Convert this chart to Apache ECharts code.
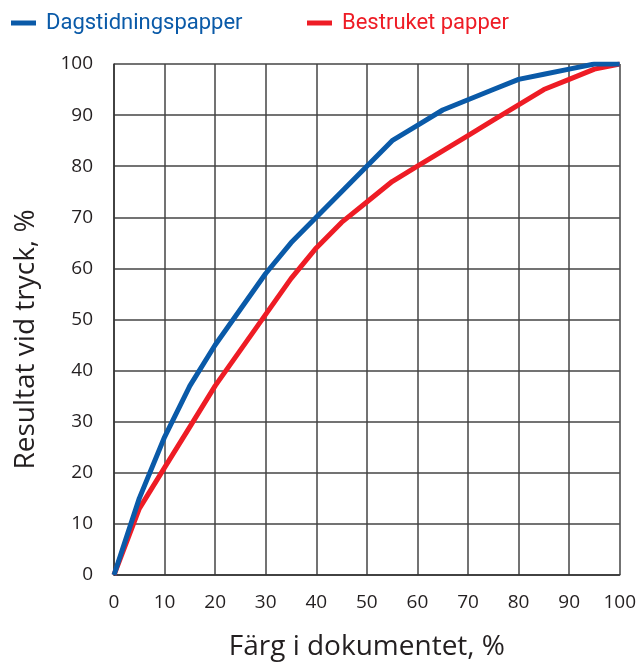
<!DOCTYPE html>
<html><head><meta charset="utf-8">
<script src="https://cdn.jsdelivr.net/npm/echarts@6/dist/echarts.min.js"></script>
<style>html,body{margin:0;padding:0;background:#fff}#c{width:639px;height:666px}</style>
</head><body><div id="c"></div>
<script>
var xValues = [0,5,10,15,20,25,30,35,40,45,50,55,60,65,70,75,80,85,90,95,100];
var dagstidning = [0,15,27,37,45,52,59,65,70,75,80,85,88,91,93,95,97,98,99,100,100];
var bestruket  = [0,13,21,29,37,44,51,58,64,69,73,77,80,83,86,89,92,95,97,99,100];
var seriesNames = ['Dagstidningspapper','Bestruket papper'];
var xTicks = [0,10,20,30,40,50,60,70,80,90,100];
var yTicks = [0,10,20,30,40,50,60,70,80,90,100];
var BLUE = '#0a5aa8', RED = '#ee1c25';
function pairs(ys){return xValues.map(function(x,i){return [x, ys[i]];});}
var chart = echarts.init(document.getElementById('c'));
var font = '"Open Sans", "Noto Sans", sans-serif';
var lfont = 'Roboto, "Open Sans", sans-serif';
function legendOf(name, color, left){
  return {
    left:left, top:7, itemWidth:25, itemHeight:5, icon:'rect',
    data:[{name:name, textStyle:{color:color}}],
    textStyle:{fontSize:22, fontFamily:lfont, padding:[0,0,0,5]}
  };
}
chart.setOption({
  animation:false,
  textStyle:{fontFamily:font},
  legend:[legendOf(seriesNames[0], BLUE, 6), legendOf(seriesNames[1], RED, 302)],
  grid:{left:114, right:16, top:64, bottom:91},
  xAxis:{
    type:'value', min:0, max:100, interval:10,
    name:'Färg i dokumentet, %', nameLocation:'middle', nameGap:58,
    nameTextStyle:{fontSize:28, color:'#231f20', fontFamily:font},
    axisLine:{show:true, lineStyle:{color:'#333', width:1.5}},
    axisTick:{show:false},
    axisLabel:{fontSize:19, color:'#231f20', fontFamily:font, margin:18, formatter:function(v){return xTicks.indexOf(v)>=0?String(v):'';}},
    splitLine:{show:true, lineStyle:{color:'#444', width:1.5}}
  },
  yAxis:{
    type:'value', min:0, max:100, interval:10,
    name:'Resultat vid tryck, %', nameLocation:'middle', nameGap:74, nameRotate:90,
    nameTextStyle:{fontSize:28, color:'#231f20', fontFamily:font, padding:[0,40,0,0]},
    axisLine:{show:true, lineStyle:{color:'#333', width:1.5}},
    axisTick:{show:false},
    axisLabel:{fontSize:19, color:'#231f20', fontFamily:font, margin:21, formatter:function(v){return yTicks.indexOf(v)>=0?String(v):'';}},
    splitLine:{show:true, lineStyle:{color:'#444', width:1.5}}
  },
  series:[
    {name:seriesNames[1], type:'line', data:pairs(bestruket), showSymbol:false, symbol:'none',
     lineStyle:{color:RED, width:5}, itemStyle:{color:RED}, z:3},
    {name:seriesNames[0], type:'line', data:pairs(dagstidning), showSymbol:false, symbol:'none',
     lineStyle:{color:BLUE, width:5}, itemStyle:{color:BLUE}, z:4}
  ]
});
</script></body></html>
